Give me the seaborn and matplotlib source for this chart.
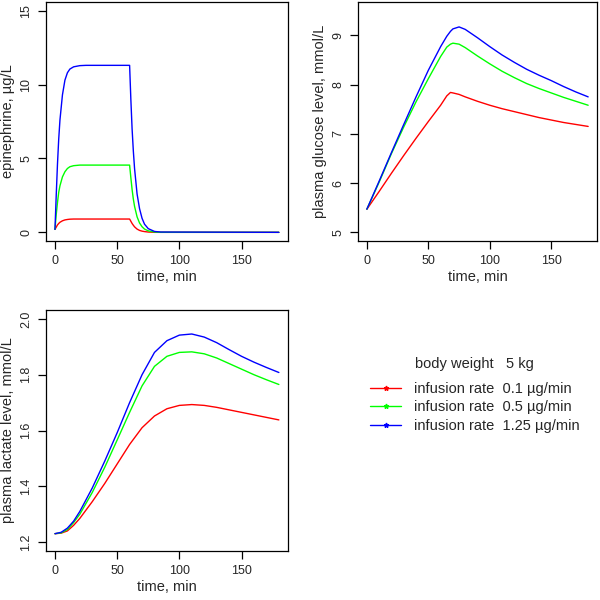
import matplotlib
matplotlib.use("Agg")
import matplotlib.pyplot as plt
import seaborn as sns
import pandas as pd
from matplotlib.lines import Line2D

# ---- data ----
rates = ["infusion rate  0.1 µg/min", "infusion rate  0.5 µg/min", "infusion rate  1.25 µg/min"]
colors = ["#FF0000", "#00FF00", "#0000FF"]

epi_time = [0, 1, 2, 3, 4, 6, 8, 10, 12, 15, 20, 25, 60, 61, 62, 63, 64, 66, 68, 70, 72, 75, 80, 85, 180]
epi_low = [0.2, 0.35, 0.5, 0.6, 0.68, 0.78, 0.84, 0.87, 0.89, 0.9, 0.9, 0.9, 0.9, 0.75, 0.6, 0.48, 0.37, 0.22, 0.13, 0.08, 0.05, 0.02, 0.0, 0.0, 0.0]
epi_mid = [0.2, 1.2, 2.0, 2.7, 3.15, 3.75, 4.1, 4.32, 4.44, 4.51, 4.55, 4.55, 4.55, 3.7, 2.9, 2.25, 1.75, 1.05, 0.63, 0.38, 0.22, 0.1, 0.02, 0.0, 0.0]
epi_high = [0.2, 2.5, 4.6, 6.3, 7.6, 9.3, 10.3, 10.8, 11.05, 11.2, 11.28, 11.3, 11.3, 9.0, 7.0, 5.5, 4.3, 2.6, 1.6, 0.95, 0.55, 0.25, 0.06, 0.02, 0.0]

glu_time = [0, 10, 20, 30, 40, 50, 60, 65, 68, 70, 75, 80, 90, 100, 110, 120, 130, 140, 150, 160, 170, 180]
glu_low = [5.47, 5.83, 6.2, 6.56, 6.91, 7.25, 7.58, 7.77, 7.84, 7.83, 7.8, 7.75, 7.66, 7.58, 7.51, 7.45, 7.39, 7.33, 7.28, 7.23, 7.19, 7.15]
glu_mid = [5.47, 6.02, 6.6, 7.14, 7.65, 8.12, 8.57, 8.76, 8.82, 8.84, 8.82, 8.75, 8.58, 8.42, 8.27, 8.14, 8.02, 7.92, 7.83, 7.74, 7.66, 7.58]
glu_high = [5.47, 6.04, 6.62, 7.19, 7.75, 8.29, 8.77, 8.98, 9.08, 9.13, 9.17, 9.12, 8.95, 8.77, 8.6, 8.45, 8.31, 8.19, 8.08, 7.96, 7.85, 7.75]

lac_time = [0, 5, 10, 15, 20, 30, 40, 50, 60, 70, 80, 90, 100, 110, 120, 130, 140, 150, 160, 170, 180]
lac_low = [1.23, 1.232, 1.24, 1.26, 1.285, 1.345, 1.41, 1.48, 1.55, 1.61, 1.652, 1.678, 1.69, 1.693, 1.69, 1.683, 1.674, 1.665, 1.656, 1.647, 1.638]
lac_mid = [1.23, 1.233, 1.245, 1.27, 1.30, 1.378, 1.468, 1.566, 1.665, 1.76, 1.83, 1.866, 1.88, 1.882, 1.875, 1.86, 1.84, 1.82, 1.80, 1.782, 1.765]
lac_high = [1.23, 1.235, 1.25, 1.275, 1.31, 1.394, 1.49, 1.592, 1.70, 1.80, 1.88, 1.922, 1.942, 1.946, 1.935, 1.915, 1.89, 1.866, 1.845, 1.826, 1.808]

x_ticks = [0, 50, 100, 150]
epi_ticks = [0, 5, 10, 15]
glu_ticks = [5, 6, 7, 8, 9]
lac_ticks = [1.2, 1.4, 1.6, 1.8, 2.0]
lac_labels = ["1.2", "1.4", "1.6", "1.8", "2.0"]

legend_title = "body weight   5 kg"


def long_df(t, series):
    rows = []
    for name, vals in zip(rates, series):
        for tt, v in zip(t, vals):
            rows.append({"time": tt, "value": v, "rate": name})
    return pd.DataFrame(rows)


sns.set_style("white")
plt.rcParams["font.family"] = ["Liberation Sans", "DejaVu Sans"]

fig = plt.figure(figsize=(6, 6), dpi=100)
ax1 = fig.add_axes([0.0767, 0.598, 0.403, 0.399])
ax2 = fig.add_axes([0.5967, 0.598, 0.3983, 0.399])
ax3 = fig.add_axes([0.0767, 0.0817, 0.403, 0.4016])

palette = dict(zip(rates, colors))

panels = [
    (ax1, long_df(epi_time, [epi_low, epi_mid, epi_high]), "epinephrine, µg/L", (0, 15), epi_ticks, [str(v) for v in epi_ticks]),
    (ax2, long_df(glu_time, [glu_low, glu_mid, glu_high]), "plasma glucose level, mmol/L", (5, 9.5), glu_ticks, [str(v) for v in glu_ticks]),
    (ax3, long_df(lac_time, [lac_low, lac_mid, lac_high]), "plasma lactate level, mmol/L", (1.2, 2.0), lac_ticks, lac_labels),
]

for ax, df, ylab, (y0, y1), yt, ytl in panels:
    sns.lineplot(data=df, x="time", y="value", hue="rate", palette=palette,
                 ax=ax, legend=False, linewidth=1.0, estimator=None, sort=False)
    pad = (y1 - y0) * 0.04
    ax.set_ylim(y0 - pad, y1 + pad)
    ax.set_xlim(-7.2, 187.2)
    ax.set_xticks(x_ticks)
    ax.set_xticklabels([str(v) for v in x_ticks], fontsize=9)
    ax.set_yticks(yt)
    ax.set_yticklabels(ytl, fontsize=9, rotation=90, va="center")
    ax.set_xlabel("time, min", fontsize=10.5, labelpad=2)
    ax.set_ylabel(ylab, fontsize=10.5, labelpad=4)
    for s in ax.spines.values():
        s.set_visible(True)
        s.set_color("black")
        s.set_linewidth(0.9)
    ax.tick_params(direction="out", length=6, width=0.9, color="black", pad=4,
                   bottom=True, left=True)
    ax.grid(False)

handles = [Line2D([0], [0], color=c, lw=1.0, marker="*", markersize=3.5) for c in colors]

leg = fig.legend(handles, rates, title=legend_title, loc="upper left",
                 bbox_to_anchor=(0.617, 0.405), frameon=False, fontsize=10.5,
                 title_fontsize=10.5, handlelength=2.1, handletextpad=0.9,
                 labelspacing=0.3, borderpad=0, borderaxespad=0, numpoints=1)
leg._legend_box.sep = 8

fig.savefig("out.png", dpi=100)
